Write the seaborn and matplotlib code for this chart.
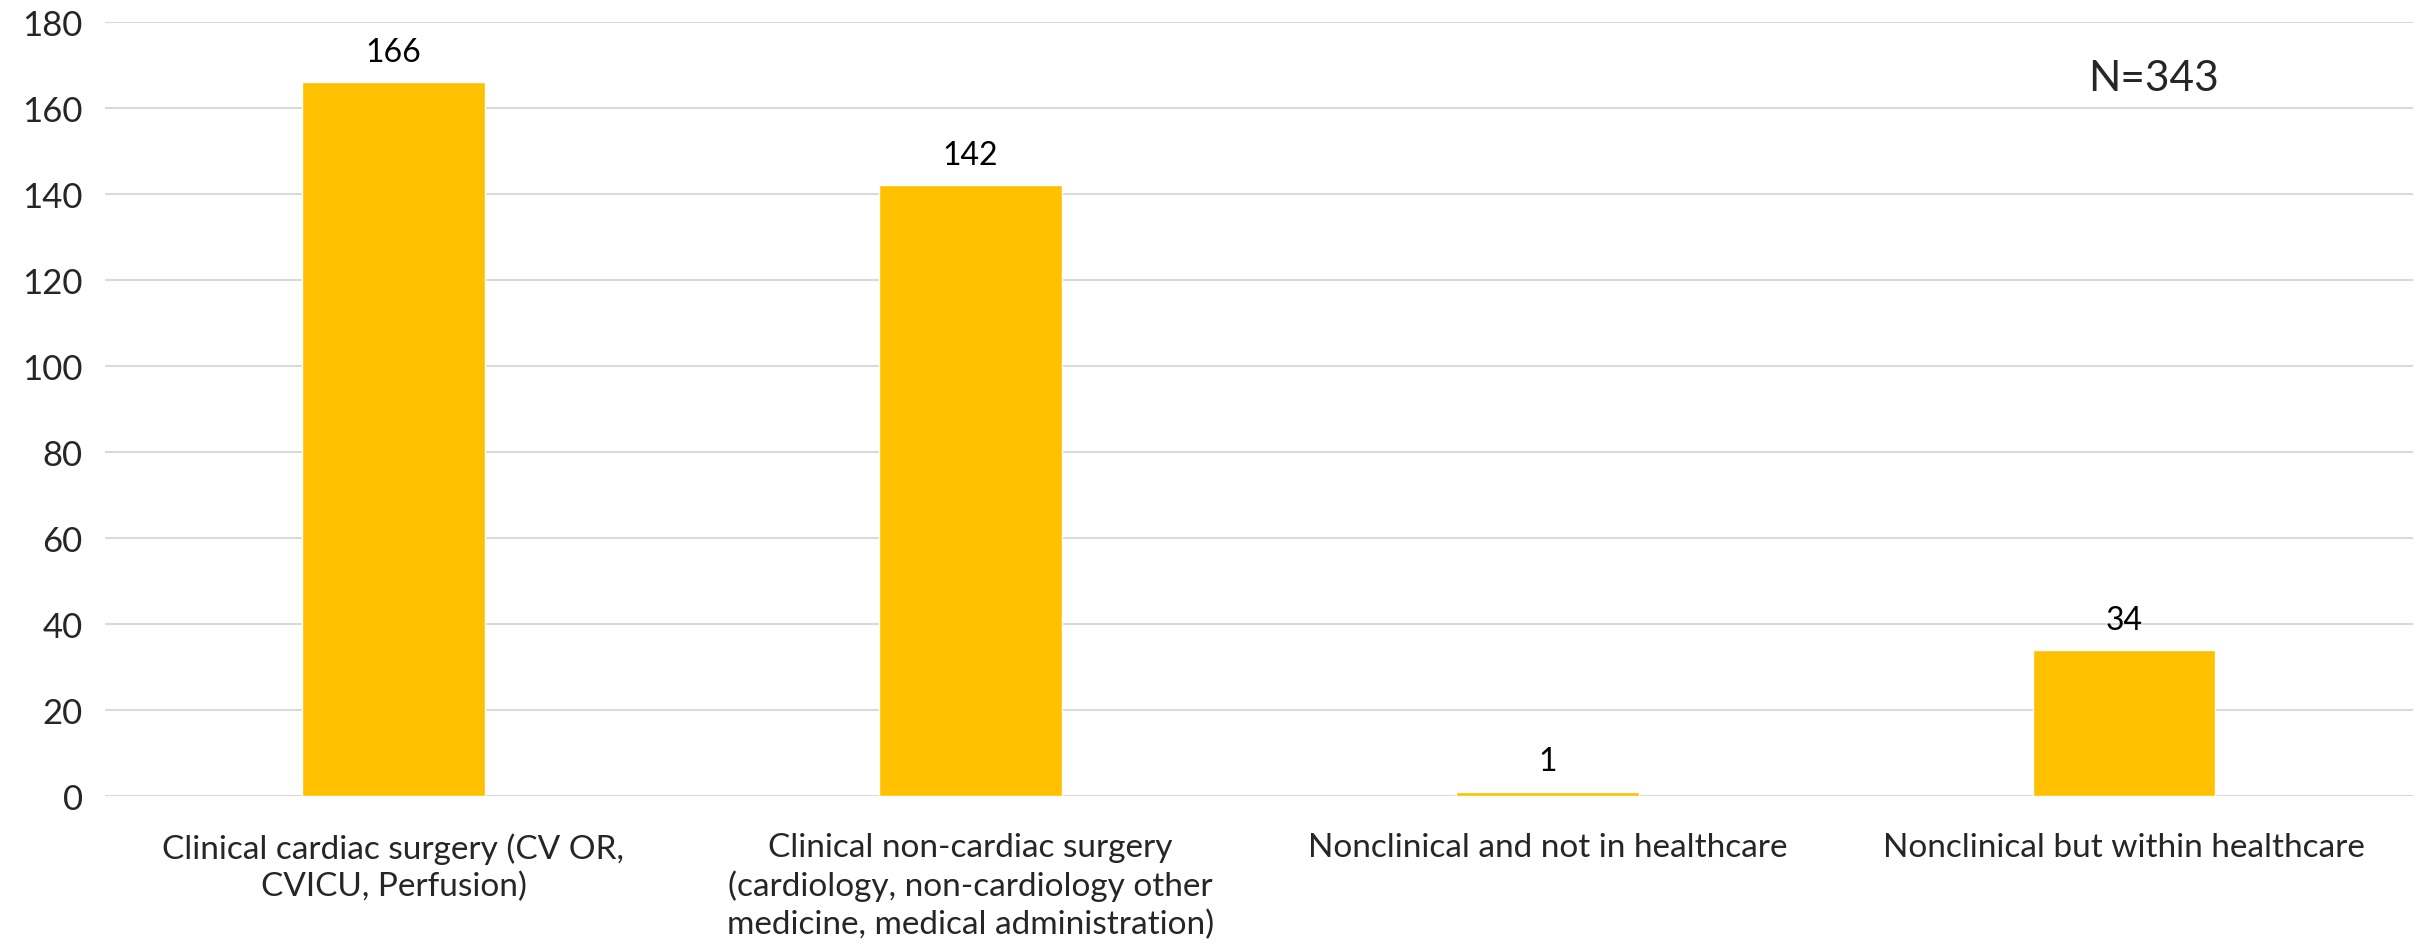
import pandas as pd
import seaborn as sns
import matplotlib.pyplot as plt

# --- data ---
categories = [
    'Clinical cardiac surgery (CV OR,\nCVICU, Perfusion)',
    'Clinical non-cardiac surgery\n(cardiology, non-cardiology other\nmedicine, medical administration)',
    'Nonclinical and not in healthcare',
    'Nonclinical but within healthcare',
]
counts = [166, 142, 1, 34]
y_ticks = [0, 20, 40, 60, 80, 100, 120, 140, 160, 180]
total_label = 'N=343'

df = pd.DataFrame({'Category': categories, 'Count': counts})

sns.set_style('white')
plt.rcParams['font.family'] = ['Lato', 'DejaVu Sans']

fig = plt.figure(figsize=(24.2, 9.53), dpi=100)
ax = fig.add_axes([0.0434, 0.1637, 0.9536, 0.8122])

sns.barplot(data=df, x='Category', y='Count', color='#FFC000',
            saturation=1, width=0.316, ax=ax, zorder=3)

# value labels above bars
for container in ax.containers:
    ax.bar_label(container, padding=11, fontsize=23, color='#000000')

ax.set_ylim(0, 180)
ax.set_yticks(y_ticks)
ax.set_xlim(-0.5, 3.5)
ax.yaxis.grid(True, color='#D9D9D9', linewidth=1.5, zorder=0)
ax.set_axisbelow(True)
for s in ax.spines.values():
    s.set_visible(False)

ax.tick_params(axis='y', length=0, labelsize=25, pad=16)
ax.tick_params(axis='x', length=0, labelsize=24, pad=26)
for lbl in ax.get_xticklabels():
    lbl.set_linespacing(1.3)
ax.set_xlabel('')
ax.set_ylabel('')

ax.text(3.05, 167, total_label, ha='center', va='center', fontsize=30.5)

fig.savefig('out.png', dpi=100)
